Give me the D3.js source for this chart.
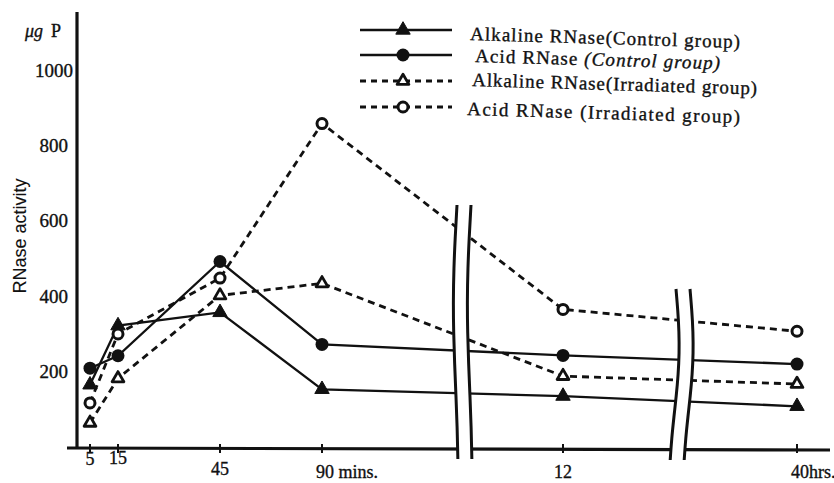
<!DOCTYPE html>
<html>
<head>
<meta charset="utf-8">
<script src="https://cdn.jsdelivr.net/npm/d3@7"></script>
<style>
  body { margin: 0; background: #fff; }
  svg { display: block; }
  text { fill: #111; stroke: #111; stroke-width: 0.35px; }
</style>
</head>
<body>
<script>
// time points in minutes (12 hrs = 720, 40 hrs = 2400)
var times = [5, 15, 45, 90, 720, 2400];
var timeLabels = ["5", "15", "45", "90 mins.", "12", "40hrs."];

var alkControl = [165, 322, 357, 153, 135, 108];
var acidControl = [209, 242, 492, 272, 243, 220];
var alkIrrad = [64, 182, 402, 434, 188, 167];
var acidIrrad = [117, 300, 448, 858, 365, 307];

var yTicks = [200, 400, 600, 800, 1000];

var seriesNames = [
  "Alkaline RNase(Control group)",
  "Acid RNase (Control group)",
  "Alkaline RNase(Irradiated group)",
  "Acid RNase (Irradiated group)"
];

var width = 834, height = 483;

var svg = d3.select("body").append("svg")
  .attr("width", width)
  .attr("height", height);

// uneven hand-drawn time axis, piecewise
var x = d3.scaleLinear().domain(times).range([90, 118, 220, 322, 563, 797]);
var y = d3.scaleLinear().domain([0, 1000]).range([447, 70]);

var series = [
  { name: seriesNames[0], values: alkControl, dash: null, shape: "tri", filled: true },
  { name: seriesNames[1], values: acidControl, dash: null, shape: "circ", filled: true },
  { name: seriesNames[2], values: alkIrrad, dash: "7,5", shape: "tri", filled: false },
  { name: seriesNames[3], values: acidIrrad, dash: "7,5", shape: "circ", filled: false }
];

var line = d3.line()
  .x(function(d, i) { return x(times[i]) })
  .y(function(d) { return y(d) });

svg.selectAll(".series")
  .data(series)
  .enter().append("path")
  .attr("class", "series")
  .attr("d", function(d) { return line(d.values) })
  .attr("fill", "none")
  .attr("stroke", "#111")
  .attr("stroke-width", function(d) { return d.dash ? 2.8 : 2.3 })
  .attr("stroke-dasharray", function(d) { return d.dash });

// axes
svg.append("line")
  .attr("x1", 77).attr("x2", 77)
  .attr("y1", 12).attr("y2", 448)
  .attr("stroke", "#111").attr("stroke-width", 3.2);

svg.append("line")
  .attr("x1", 67).attr("x2", 830)
  .attr("y1", 448).attr("y2", 450)
  .attr("stroke", "#111").attr("stroke-width", 3.2);

svg.selectAll(".xtick")
  .data(times)
  .enter().append("line")
  .attr("class", "xtick")
  .attr("x1", function(d) { return x(d) })
  .attr("x2", function(d) { return x(d) })
  .attr("y1", 444).attr("y2", 453)
  .attr("stroke", "#111").attr("stroke-width", 2);

svg.selectAll(".ylab")
  .data(yTicks)
  .enter().append("text")
  .attr("class", "ylab")
  .attr("x", function(d) { return d == 1000 ? 73 : 68 })
  .attr("y", function(d) { return y(d) })
  .attr("dy", "0.35em")
  .attr("text-anchor", "end")
  .attr("font-family", "Liberation Serif")
  .attr("font-size", 19)
  .text(function(d) { return d });

var xLabelY = [465, 464, 475, 478, 478, 478];
svg.selectAll(".xlab")
  .data(timeLabels)
  .enter().append("text")
  .attr("class", "xlab")
  .attr("x", function(d, i) { return i == 3 || i == 5 ? x(times[i]) - 6 : x(times[i]) })
  .attr("y", function(d, i) { return xLabelY[i] })
  .attr("text-anchor", function(d, i) { return i == 3 || i == 5 ? "start" : "middle" })
  .attr("font-family", "Liberation Serif")
  .attr("font-size", 18)
  .text(function(d) { return d });

svg.append("text")
  .attr("x", 25).attr("y", 37)
  .attr("font-family", "Liberation Serif")
  .attr("font-size", 18)
  .html('<tspan font-style="italic">μg</tspan><tspan dx="8">P</tspan>');

svg.append("text")
  .attr("transform", "translate(26 236) rotate(-90)")
  .attr("text-anchor", "middle")
  .attr("font-family", "Liberation Sans")
  .attr("font-size", 18)
  .style("stroke-width", "0.1px")
  .text("RNase activity");

// axis breaks: two wavy strokes with a white gap
function makeBreak(cx, top, bottom, bend) {
  var n = 8, pts = [];
  for (var i = 0; i <= n; i++) {
    var t = i / n;
    pts.push([cx + bend * Math.sin(t * Math.PI * 1.4) - 2 * t, top + t * (bottom - top)]);
  }
  var curve = d3.line().curve(d3.curveBasis);
  var left = pts.map(function(p) { return [p[0] - 7, p[1]] });
  var right = pts.map(function(p) { return [p[0] + 7, p[1]] });
  svg.append("path")
    .attr("d", curve(left) + "L" + right.slice().reverse().map(function(p) { return p.join(",") }).join("L") + "Z")
    .attr("fill", "#fff");
  [left, right].forEach(function(p) {
    svg.append("path")
      .attr("d", curve(p))
      .attr("fill", "none")
      .attr("stroke", "#111")
      .attr("stroke-width", 3);
  });
}
makeBreak(464, 205, 459, -3);
makeBreak(683, 289, 460, 4);

// markers
var triSym = d3.symbol().type(d3.symbolTriangle);

function drawMarker(g, shape, filled) {
  if (shape == "tri") {
    g.append("path")
      .attr("d", triSym.size(filled ? 90 : 60)())
      .attr("fill", filled ? "#111" : "#fff")
      .attr("stroke", "#111")
      .attr("stroke-width", filled ? 1 : 2.8)
      .attr("stroke-linejoin", "round");
  } else {
    g.append("circle")
      .attr("r", filled ? 6.5 : 5)
      .attr("fill", filled ? "#111" : "#fff")
      .attr("stroke", "#111")
      .attr("stroke-width", filled ? 0 : 3);
  }
}

series.forEach(function(s) {
  s.values.forEach(function(v, i) {
    var g = svg.append("g")
      .attr("transform", "translate(" + x(times[i]) + " " + y(v) + ")");
    drawMarker(g, s.shape, s.filled);
  });
});

// legend
var legendY = [30, 55, 81, 107];
var textStart = [470, 475, 472, 467];
var textBase = [40, 62, 86, 115];
var textLen = [270, 245, 285, 273];

series.forEach(function(s, i) {
  svg.append("line")
    .attr("x1", 360).attr("x2", 452)
    .attr("y1", legendY[i]).attr("y2", legendY[i])
    .attr("stroke", "#111")
    .attr("stroke-width", s.dash ? 2.8 : 2.3)
    .attr("stroke-dasharray", s.dash ? "6,5" : null);
  var g = svg.append("g")
    .attr("transform", "translate(403 " + legendY[i] + ")");
  drawMarker(g, s.shape, s.filled);

  var t = svg.append("text")
    .attr("transform", "translate(" + textStart[i] + " " + textBase[i] + ") rotate(1.7)")
    .attr("font-family", "Liberation Serif")
    .attr("font-size", 19)
    .attr("textLength", textLen[i])
    .attr("lengthAdjust", "spacing");
  if (i == 1) {
    t.append("tspan").text("Acid RNase ");
    t.append("tspan").attr("font-style", "italic").text("(Control group)");
  } else {
    t.text(s.name);
  }
});
</script>
</body>
</html>
